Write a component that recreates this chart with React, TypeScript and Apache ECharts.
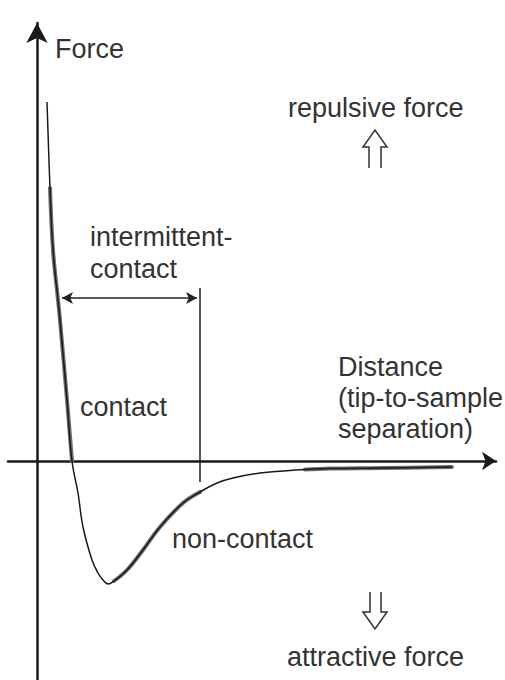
import React, { useEffect, useRef } from "react";
import * as echarts from "echarts";

// Force–distance curve (schematic)
const distance = [0.10, 0.13, 0.16, 0.21, 0.23, 0.30, 0.35, 0.41, 0.46, 0.55, 0.61, 0.66, 0.71, 0.77, 0.90, 1.06, 1.23, 1.46, 1.63, 1.80, 1.96, 2.23, 2.46, 2.68, 2.93, 3.46, 4.15];
const force = [3.59, 2.73, 2.11, 1.61, 1.41, 0.61, 0.0, -0.32, -0.66, -0.99, -1.12, -1.19, -1.23, -1.20, -1.09, -0.89, -0.66, -0.42, -0.31, -0.22, -0.17, -0.12, -0.10, -0.085, -0.075, -0.07, -0.06];

// highlighted regimes (distance ranges)
const contactRange = [0.13, 0.35];
const nonContactRange = [0.77, 1.63];
const tailRange = [2.68, 4.15];

// intermittent-contact marker
const markerX = 1.63;
const markerYBottom = -0.21;
const markerYTop = 1.73;
const spanArrowY = 1.63;
const spanArrowX = [0.25, 1.60];

const xRange = [-0.29, 4.59];
const yRange = [-2.19, 4.38];

const pts = distance.map((d, i) => [d, force[i]]);
const inRange = (r: number[]) => pts.filter((p) => p[0] >= r[0] - 1e-9 && p[0] <= r[1] + 1e-9);

const FONT = "27px 'Liberation Sans', Arial, Helvetica, sans-serif";
const TXT = "#333";

export default function App() {
  const ref = useRef<HTMLDivElement>(null);
  useEffect(() => {
    if (!ref.current) return;
    const chart = echarts.init(ref.current, null, { renderer: "svg" });
    const grayLine = (data: number[][]) => ({
      type: "line",
      data,
      smooth: 0.4,
      symbol: "none",
      silent: true,
      z: 3,
      lineStyle: { color: "#707070", width: 4, cap: "round" },
    });
    const text = (t: string, x: number, y: number, lh = 31, va = "top") => ({
      type: "text",
      x,
      y,
      z: 10,
      style: { text: t, font: FONT, fill: TXT, textVerticalAlign: va, lineHeight: lh },
    });
    chart.setOption({
      animation: false,
      grid: { left: 8, right: 9, top: 23, bottom: 0 },
      xAxis: {
        type: "value",
        min: xRange[0],
        max: xRange[1],
        axisLine: {
          show: true,
          onZero: true,
          symbol: ["none", "arrow"],
          symbolSize: [14, 14],
          lineStyle: { color: "#1a1a1a", width: 2.5 },
        },
        axisTick: { show: false },
        axisLabel: { show: false },
        splitLine: { show: false },
      },
      yAxis: {
        type: "value",
        min: yRange[0],
        max: yRange[1],
        axisLine: {
          show: true,
          onZero: true,
          symbol: ["none", "arrow"],
          symbolSize: [16, 20],
          lineStyle: { color: "#1a1a1a", width: 2.5 },
        },
        axisTick: { show: false },
        axisLabel: { show: false },
        splitLine: { show: false },
      },
      series: [
        {
          type: "line",
          data: pts,
          smooth: 0.4,
          symbol: "none",
          silent: true,
          z: 4,
          lineStyle: { color: "#1a1a1a", width: 1.5 },
          markLine: {
            silent: true,
            animation: false,
            label: { show: false },
            lineStyle: { color: "#222", width: 1.5, type: "solid" },
            symbolSize: [9, 11],
            data: [
              [
                { coord: [markerX, markerYBottom], symbol: "none" },
                { coord: [markerX, markerYTop], symbol: "none" },
              ],
              [
                { coord: [spanArrowX[0], spanArrowY], symbol: "arrow" },
                { coord: [spanArrowX[1], spanArrowY], symbol: "arrow" },
              ],
            ],
          },
        },
        grayLine(inRange(contactRange)),
        grayLine(inRange(nonContactRange)),
        grayLine(inRange(tailRange)),
      ],
      graphic: [
        text("Force", 55, 49, 27, "middle"),
        text("repulsive force", 288, 108, 27, "middle"),
        text("intermittent-\ncontact", 90, 221, 32),
        text("contact", 80, 407, 27, "middle"),
        text("Distance\n(tip-to-sample\nseparation)", 338, 351, 31),
        text("non-contact", 172, 539, 27, "middle"),
        text("attractive force", 287, 657, 27, "middle"),
        {
          type: "polyline",
          z: 10,
          shape: { points: [[369, 168], [369, 147], [363, 147], [375, 130], [387, 147], [381, 147], [381, 168]] },
          style: { stroke: "#333", lineWidth: 1.5, fill: "none" },
        },
        {
          type: "polyline",
          z: 10,
          shape: { points: [[370, 592], [370, 612], [363, 612], [375, 629], [387, 612], [381, 612], [381, 592]] },
          style: { stroke: "#333", lineWidth: 1.5, fill: "none" },
        },
      ],
    });
    return () => chart.dispose();
  }, []);
  return (
    <div
      ref={ref}
      style={{ position: "absolute", left: 0, top: 0, width: 505, height: 680, background: "#fff" }}
    />
  );
}
